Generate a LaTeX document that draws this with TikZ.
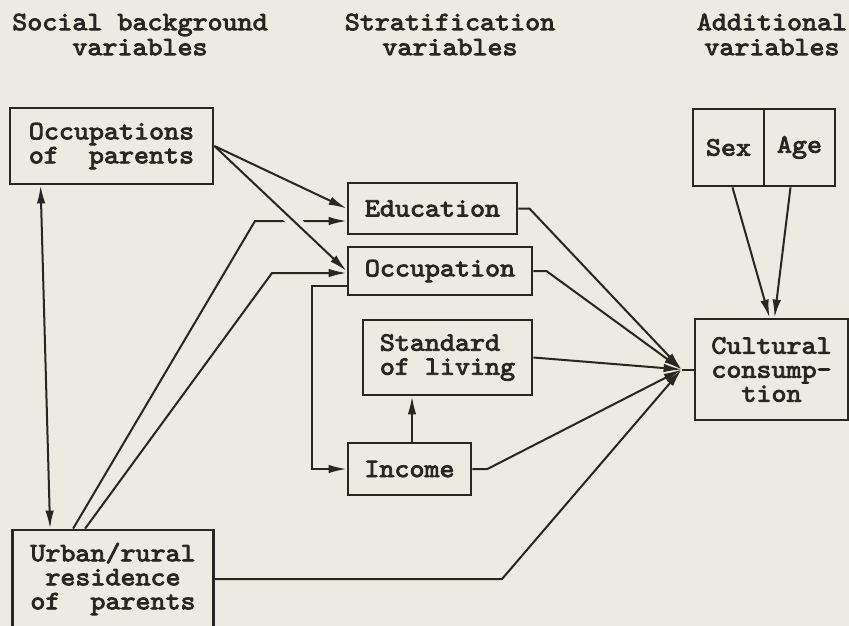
\documentclass[tikz,border=0pt]{standalone}
\usepackage{fontspec}
\newfontfamily\typewriter{lmmono10-regular.otf}[FakeStretch=1.08, FakeBold=3.2]
\usetikzlibrary{arrows.meta,calc}
\definecolor{paper}{RGB}{236,234,225}
\definecolor{ink}{RGB}{40,37,34}

\begin{document}
\begin{tikzpicture}[
    x=1pt, y=-1pt,
    every node/.style={font=\typewriter\fontsize{26.5}{24}\selectfont, text=ink},
    box/.style={draw=ink, line width=2.8pt, align=center, inner sep=0pt},
    head/.style={align=center, font=\typewriter\fontsize{26.5}{25}\selectfont},
    flow/.style={-{Latex[length=18pt,width=8.5pt]}, draw=ink, line width=2pt},
    both/.style={{Latex[length=18pt,width=8.5pt]}-{Latex[length=18pt,width=8.5pt]}, draw=ink, line width=2pt},
    link/.style={draw=ink, line width=2pt}
]
\fill[paper] (0,0) rectangle (849,626);
\useasboundingbox (0,0) rectangle (849,626);

% column heads
\node[head] (hsocial) at (140,34.5) {Social background\\variables};
\node[head] (hstrat) at (450,34.5) {Stratification\\variables};
\node[head] (hadd) at (772,34.5) {Additional\\variables};

% variables
\node[box, minimum width=203pt, minimum height=76pt] (occpar) at (111.5,146) {Occupations\\of\ \ parents};
\node[box, minimum width=201pt, minimum height=98pt] (urban) at (113,579) {Urban/rural\\residence\\of\ \ parents};
\node[box, minimum width=169pt, minimum height=51pt] (educ) at (432.5,208.5) {Education};
\node[box, minimum width=184pt, minimum height=48pt] (occup) at (440,271) {Occupation};
\node[box, minimum width=169pt, minimum height=75pt, align=left] (stand) at (447.5,357.5) {Standard\\of living};
\node[box, minimum width=123pt, minimum height=52pt] (income) at (409.5,469) {Income};
\node[box, minimum width=71pt, minimum height=77pt] (sex) at (728.5,147.5) {Sex};
\node[box, minimum width=71pt, minimum height=77pt] (age) at (799.5,147.5) {Age};
\node[box, minimum width=153pt, minimum height=101pt] (cult) at (771.5,369.5) {Cultural\\consump-\\tion};

\coordinate (hub) at ([xshift=-12pt]cult.west);
\coordinate (k1) at (255,221);
\coordinate (k2) at (272,273);
\coordinate (k3) at (502,579);

% background -> stratification
\draw[both] ([xshift=32pt]occpar.south west) -- ([xshift=39pt]urban.north west);
\draw[flow] (occpar.east) -- (educ.west);
\draw[flow] ([xshift=62pt]urban.north west) -- (k1) -- ([yshift=-12.5pt]educ.west);
\draw[paper, line width=13pt] ($(occpar.east)!0.55!(occup.west)$) -- ($(occpar.east)!0.65!(occup.west)$);
\draw[flow] (occpar.east) -- (occup.west);
\draw[flow] ([xshift=74pt]urban.north west) -- (k2) -- ([yshift=-2pt]occup.west);
\draw[flow] ([yshift=-15pt]occup.west) -- ++(-35pt,0) |- (income.west);
\draw[flow] ([xshift=2.5pt]income.north) -- ([xshift=2.5pt]income.north |- stand.south);

% everything -> cultural consumption
\draw[flow] (educ.east) -- ++(11pt,0) -- (hub);
\draw[flow] (occup.east) -- ++(13pt,0) -- (hub);
\draw[flow] (stand.east) -- (hub);
\draw[flow] (income.east) -- ++(15pt,0) -- (hub);
\draw[flow] (urban.east) -- (k3) -- (hub);
\draw[link] (hub) -- (cult.west);
\draw[flow] ([xshift=4pt]sex.south) -- ([xshift=-2pt]cult.north);
\draw[flow] ([xshift=-9pt]age.south) -- ([xshift=3pt]cult.north);
\end{tikzpicture}
\end{document}
